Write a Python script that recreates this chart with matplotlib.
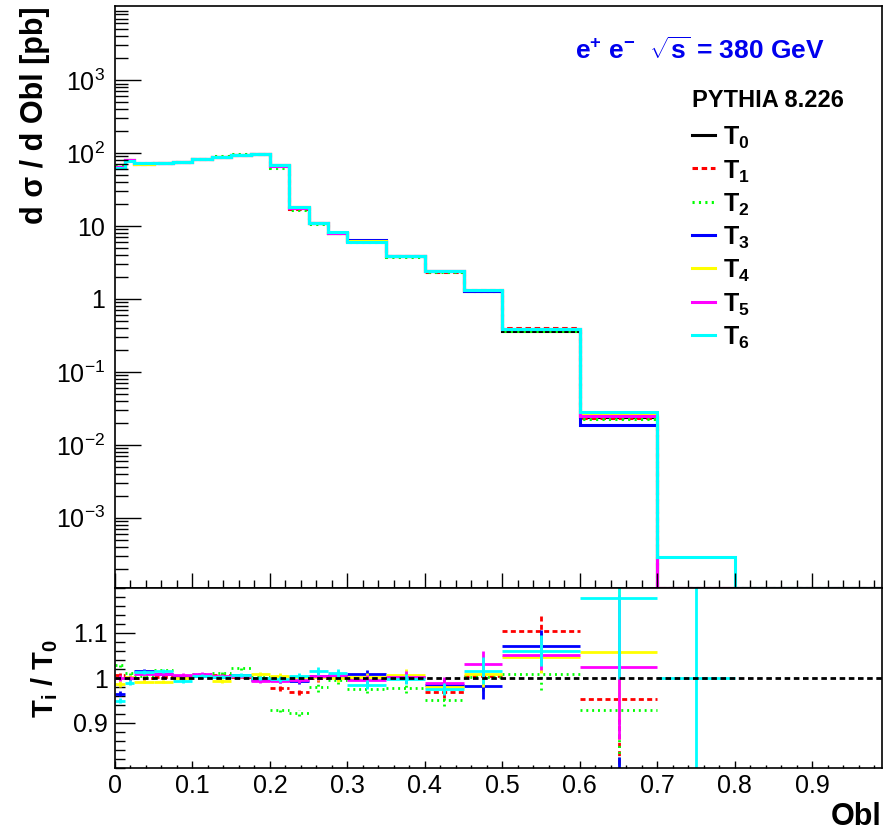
import numpy as np
import matplotlib
matplotlib.use('Agg')
import matplotlib.pyplot as plt
from matplotlib.ticker import MultipleLocator, LogLocator, NullFormatter

plt.rcParams['font.family'] = 'Liberation Sans'
plt.rcParams['mathtext.fontset'] = 'custom'
plt.rcParams['mathtext.rm'] = 'Liberation Sans'
plt.rcParams['mathtext.bf'] = 'Liberation Sans:bold'
plt.rcParams['mathtext.it'] = 'Liberation Sans:italic'
plt.rcParams['mathtext.sf'] = 'Liberation Sans'

# ---- data ----
edges = [0, 0.0125, 0.025, 0.05, 0.075, 0.1, 0.125, 0.15, 0.175, 0.2, 0.225,
         0.25, 0.275, 0.3, 0.35, 0.4, 0.45, 0.5, 0.6, 0.7, 0.8, 1.0]

# d sigma / d Obl [pb] per bin
t0 = [65, 80, 72, 73, 76, 82, 89, 94, 97, 68, 18.0, 10.9, 8.1, 6.2, 3.9, 2.45, 1.30, 0.365, 0.0243, 0, 0]
t1 = [65.4, 80, 72, 73.2, 76.2, 82.4, 89.5, 94.3, 97, 66.5, 17.4, 10.9, 8.13, 6.2, 3.9, 2.37, 1.31, 0.403, 0.0232, 0, 0]
t2 = [67, 81, 72.4, 74.3, 76, 82.7, 90, 96, 97.3, 63.2, 16.6, 10.7, 8.06, 6.05, 3.81, 2.33, 1.30, 0.368, 0.0226, 0, 0]
t3 = [62.7, 80, 73.1, 73.6, 76.2, 82.3, 89.3, 94.6, 96.6, 67.7, 17.9, 10.95, 8.13, 6.4, 3.91, 2.41, 1.28, 0.391, 0.0188, 0, 0]
t4 = [64.2, 80.2, 71.4, 72.4, 76, 82.5, 88.4, 94.5, 97.9, 68.3, 18.0, 10.93, 8.1, 6.21, 3.93, 2.40, 1.31, 0.382, 0.0257, 0, 0]
t5 = [65, 80, 72.7, 73.7, 76.5, 82.8, 89.4, 94.4, 96.4, 67.6, 17.9, 10.94, 8.12, 6.1, 3.91, 2.43, 1.34, 0.384, 0.0249, 0, 0]
t6 = [61.8, 79.2, 72.9, 74.1, 75.5, 82.4, 89.3, 94.7, 97, 67.9, 18.1, 11.07, 8.19, 6.11, 3.89, 2.39, 1.32, 0.387, 0.0286, 0.00029, 0]

# ratio T_i / T_0 for the first 20 bins (0 - 0.8)
nan = np.nan
r1 = [1.006, 1.0, 1.0, 1.003, 1.002, 1.005, 1.006, 1.003, 1.0, 0.978, 0.969, 1.0, 1.004, 1.0, 1.0, 0.969, 1.005, 1.105, 0.954, nan]
r2 = [1.030, 1.012, 1.005, 1.018, 1.0, 1.008, 1.012, 1.022, 1.003, 0.930, 0.923, 0.979, 0.995, 0.976, 0.978, 0.951, 1.002, 1.008, 0.930, nan]
r3 = [0.965, 1.0, 1.015, 1.008, 1.002, 1.004, 1.003, 1.006, 0.996, 0.995, 0.994, 1.005, 1.004, 1.008, 1.002, 0.985, 0.983, 1.071, 0.774, nan]
r4 = [0.987, 1.002, 0.992, 0.992, 1.0, 1.006, 0.993, 1.005, 1.009, 1.005, 1.002, 1.003, 1.0, 1.002, 1.007, 0.981, 1.01, 1.046, 1.058, nan]
r5 = [1.0, 1.0, 1.01, 1.01, 1.007, 1.01, 1.005, 1.004, 0.994, 0.994, 0.996, 1.004, 1.006, 0.996, 1.003, 0.99, 1.031, 1.052, 1.025, nan]
r6 = [0.950, 0.990, 1.013, 1.015, 0.993, 1.005, 1.003, 1.007, 1.0, 0.998, 1.005, 1.016, 1.011, 0.985, 0.998, 0.976, 1.016, 1.061, 1.177, 1.0]
ratio_err = [0.006, 0.005, 0.004, 0.004, 0.004, 0.004, 0.004, 0.004, 0.005, 0.006, 0.007, 0.009,
             0.009, 0.010, 0.012, 0.013, 0.030, 0.035, 0.2, 0.6]
err_bin19 = [0.2, 0.2, 0.05, 0.15, 0.16, 0.18]  # T1..T6 in the 0.6-0.7 bin

labels = ['T_{0}', 'T_{1}', 'T_{2}', 'T_{3}', 'T_{4}', 'T_{5}', 'T_{6}']
colors = ['black', '#ff0000', '#00ff00', '#0000ff', '#ffff00', '#ff00ff', '#00ffff']
styles = ['-', (0, (1.8, 1.2)), (0, (0.7, 1.4)), '-', '-', '-', '-']

# ---- figure ----
W, H = 887, 832
fig = plt.figure(figsize=(W / 100, H / 100), dpi=100)


def box(l, t, r, b):
    return [l / W, 1 - b / H, (r - l) / W, (b - t) / H]


ax = fig.add_axes(box(115, 6, 882, 588))
axr = fig.add_axes(box(115, 588, 882, 768))

ymin, ymax = 1.09e-4, 1.04e4
edges_a = np.array(edges)
for vals, col, ls in zip([t0, t1, t2, t3, t4, t5, t6], colors, styles):
    v = np.array(vals, float)
    v = np.where(v > 0, v, ymin)
    ax.stairs(v, edges_a, color=col, linestyle=ls, lw=2.2, baseline=None)

ax.set_yscale('log')
ax.set_ylim(ymin, ymax)
ax.set_xlim(0, 0.99)
ax.set_yticks([1e-3, 1e-2, 1e-1, 1, 10, 100, 1000],
              labels=[r'$10^{-3}$', r'$10^{-2}$', r'$10^{-1}$', '1', '10', r'$10^{2}$', r'$10^{3}$'])
ax.yaxis.set_minor_locator(LogLocator(base=10, subs=np.arange(2, 10), numticks=30))
ax.yaxis.set_minor_formatter(NullFormatter())
ax.xaxis.set_major_locator(MultipleLocator(0.1))
ax.xaxis.set_minor_locator(MultipleLocator(0.02))
ax.tick_params(axis='y', which='major', direction='in', length=19, width=1, labelsize=18, pad=7)
ax.tick_params(axis='y', which='minor', direction='in', length=9.5, width=1)
ax.tick_params(axis='x', which='major', direction='in', length=11, width=1, labelbottom=False)
ax.tick_params(axis='x', which='minor', direction='in', length=5.5, width=1)
for s in ax.spines.values():
    s.set_linewidth(1.2)

ax.set_ylabel('d σ / d Obl [pb]', fontsize=22, fontweight='bold', loc='top')
ax.yaxis.set_label_coords(-0.085, 1.0)

# annotation and legend
ax.text(0.600, 0.924, r'e$^{\mathbf{+}}$ e$^{\mathbf{-}}$  $\sqrt{\mathbf{s}}$ = 380 GeV',
        transform=ax.transAxes, color='#0000ee', fontsize=19, fontweight='bold', va='center')
ax.text(0.752, 0.838, 'PYTHIA 8.226', transform=ax.transAxes, fontsize=17,
        fontweight='bold', va='center')
for i, (lab, col, ls) in enumerate(zip(labels, colors, styles)):
    y = 0.778 - i * 0.0572
    ax.plot([0.752, 0.782], [y, y], transform=ax.transAxes, color=col, ls=ls, lw=2.2, clip_on=False)
    ax.text(0.793, y - 0.017, r'$\mathbf{' + lab + '}$', transform=ax.transAxes,
            fontsize=18, va='baseline')

# ---- ratio panel ----
lo = edges_a[:-2]
hi = edges_a[1:-1]
centers = (lo + hi) / 2
for k, (rv, col, ls) in enumerate(zip([r1, r2, r3, r4, r5, r6], colors[1:], styles[1:])):
    r = np.array(rv, float)
    e = np.array(ratio_err, float)
    e[18] = err_bin19[k]
    m = ~np.isnan(r)
    axr.hlines(r[m], lo[m], hi[m], colors=col, linestyles=[ls], lw=2)
    axr.vlines(centers[m], r[m] - e[m], r[m] + e[m], colors=col, linestyles=[ls], lw=2)

axr.axhline(1.0, color='black', ls=(0, (2.0, 1.3)), lw=2, zorder=5)
axr.set_xlim(0, 0.99)
axr.set_ylim(0.8, 1.2)
axr.set_yticks([0.9, 1.0, 1.1], labels=['0.9', '1', '1.1'])
axr.yaxis.set_minor_locator(MultipleLocator(0.02))
axr.set_xticks(np.arange(0, 1.0, 0.1), labels=['0', '0.1', '0.2', '0.3', '0.4', '0.5', '0.6', '0.7', '0.8', '0.9'])
axr.xaxis.set_minor_locator(MultipleLocator(0.02))
axr.tick_params(axis='y', which='major', direction='in', length=14.4, width=1, labelsize=18, pad=5)
axr.tick_params(axis='y', which='minor', direction='in', length=7.2, width=1)
axr.tick_params(axis='x', which='major', direction='in', length=5, width=1, labelsize=18, pad=4)
axr.tick_params(axis='x', which='minor', direction='in', length=2.5, width=1)
for s in axr.spines.values():
    s.set_linewidth(1.2)

axr.set_ylabel(r'$\mathbf{T_{i}}$ / $\mathbf{T_{0}}$', fontsize=21, fontweight='bold')
axr.yaxis.set_label_coords(-0.072, 0.5)
axr.set_xlabel('Obl', fontsize=22, fontweight='bold', loc='right')
axr.xaxis.set_label_coords(1.0, -0.19)

fig.savefig('out.png', dpi=100)
